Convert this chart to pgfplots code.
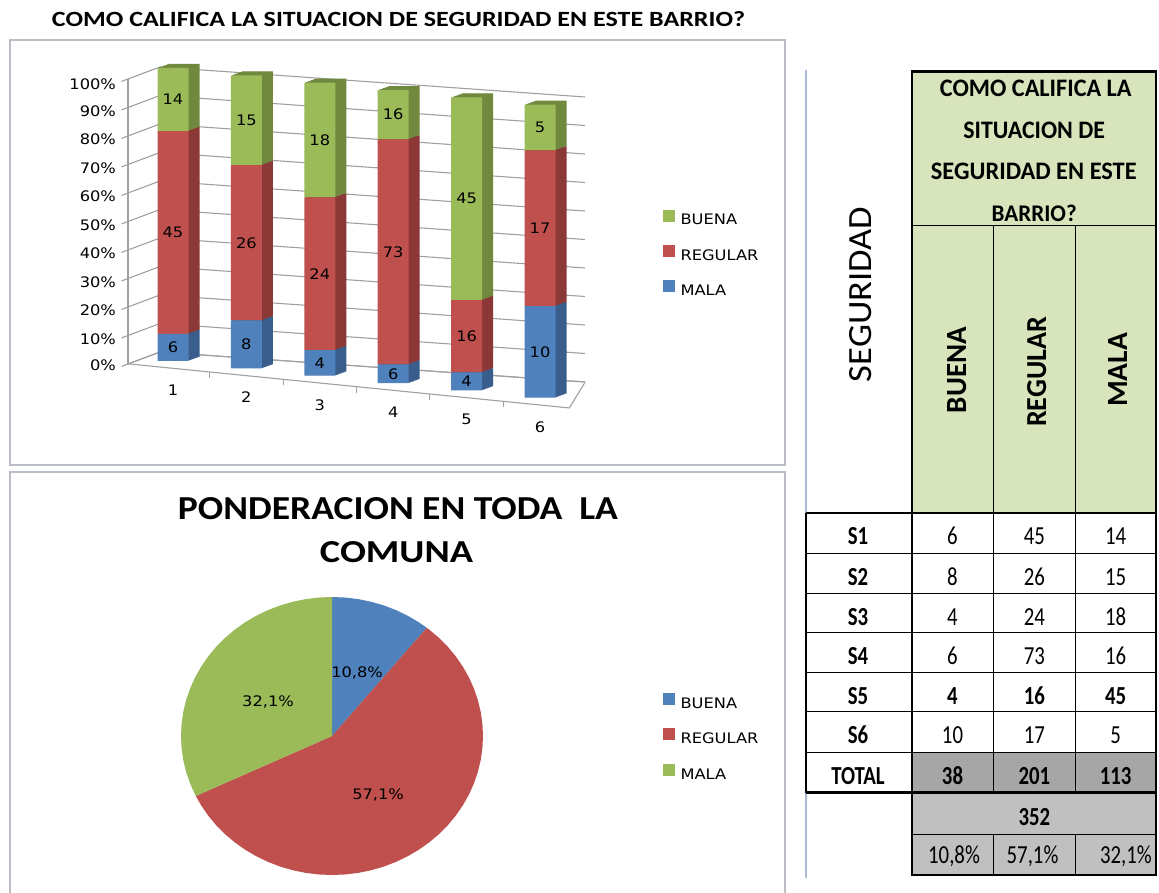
\documentclass[border=0pt]{standalone}
\usepackage{pgfplots}
\pgfplotsset{compat=1.18}
\usepackage{pgfplotstable}
\usepackage{graphicx}
\usepackage{fontspec}
\setmainfont{Carlito}
\newfontfamily\chartfont[FakeStretch=1.12]{DejaVu Sans}
\newfontfamily\tabfont[FakeStretch=0.8]{Carlito}
\newcommand{\cf}{\chartfont\fontsize{14.5pt}{17pt}\selectfont}
\newcommand{\tf}{\tabfont\fontsize{26pt}{30pt}\selectfont}

\definecolor{cgreen}{HTML}{9BBB59}
\definecolor{cred}{HTML}{C0504D}
\definecolor{cblue}{HTML}{4F81BD}
\definecolor{sgreen}{HTML}{71893F}
\definecolor{sred}{HTML}{8C3836}
\definecolor{sblue}{HTML}{3A5E8C}
\definecolor{hgreen}{HTML}{D8E4BC}
\definecolor{tgray}{HTML}{A6A6A6}
\definecolor{lgray}{HTML}{C0C0C0}
\definecolor{boxc}{HTML}{B9BEC6}
\definecolor{gridc}{HTML}{A0A0A0}
\definecolor{faint}{HTML}{A9BCD6}

% percentages per sector (x), and counts shown as labels
\pgfplotstableread{
x pm pr pb nm nr nb
1 9.23 69.23 21.54 6 45 14
2 16.33 53.06 30.61 8 26 15
3 8.70 52.17 39.13 4 24 18
4 6.32 76.84 16.84 6 73 16
5 6.15 24.62 69.23 4 16 45
6 31.25 53.13 15.63 10 17 5
}\bardata

\pgfplotsset{
  barbase/.style={
    anchor=origin, disabledatascaling,
    x={(73.4pt,-7.34pt)}, y={(0pt,2.93pt)},
    xmin=0, xmax=7, ymin=-2.5, ymax=100,
    clip=false, ybar stacked, bar width=31pt,
    hide axis,
  },
  legbase/.style={
    hide axis, scale only axis, width=10pt, height=10pt,
    xmin=0, xmax=1, ymin=0, ymax=1, anchor=north west,
    legend style={at={(0,1)}, anchor=north west, draw=none, fill=none,
      inner sep=0pt, font=\cf, row sep=17.5pt, legend cell align=left,
      nodes={inner sep=1pt},
      /tikz/every odd column/.append style={column sep=5pt}},
    legend image code/.code={\fill[##1] (0pt,-0.5pt) rectangle (11pt,10.5pt);},
  },
}

\begin{document}
\begin{tikzpicture}
\path[use as bounding box, fill=white] (0pt,0pt) rectangle (1159pt,892pt);

% ---------- boxes and texts (image coordinates) ----------
\begin{scope}[shift={(0pt,892pt)}, x=1pt, y=-1pt]
\draw[boxc, line width=2.5pt] (10,40) rectangle (785,465);
\draw[boxc, line width=2.5pt] (10,472) rectangle (785,896);
\node[anchor=base, inner sep=0pt] at (398.5,27) {\resizebox{693pt}{15pt}{\bfseries COMO CALIFICA LA SITUACION DE SEGURIDAD EN ESTE BARRIO?}};
\node[anchor=base, inner sep=0pt] at (398,520) {\resizebox{440pt}{22pt}{\bfseries PONDERACION EN TODA\hspace{0.45em}LA}};
\node[anchor=base, inner sep=0pt] at (396.5,563) {\resizebox{153pt}{21pt}{\bfseries COMUNA}};

% table
\fill[hgreen] (912,71.7) rectangle (1156,513);
\fill[tgray] (912,752.7) rectangle (1156,792.7);
\fill[lgray] (912,792.7) rectangle (1156,875);
\draw[faint, line width=1.2pt] (806,70) -- (806,878);
\draw[line width=1.2pt] (912,225.7) -- (1156,225.7);
\draw[line width=1.2pt] (993.3,225.7) -- (993.3,792.7) (1075.3,225.7) -- (1075.3,792.7);
\foreach \yy in {553.3,593.3,632.7,672.3,711.7,752.7} \draw[line width=1.2pt] (806,\yy) -- (1156,\yy);
\draw[line width=1.4pt] (806,513) -- (806,792.7);
\draw[line width=1.2pt] (912,834.3) -- (1156,834.3);
\draw[line width=1.2pt] (993.3,834.3) -- (993.3,875) (1075.3,834.3) -- (1075.3,875);
\draw[line width=2.6pt] (912,513) -- (912,71.7) -- (1156,71.7) -- (1156,875) -- (912,875) -- cycle;
\draw[line width=2.6pt] (806,513) -- (1156,513);
\draw[line width=2.6pt] (806,792.7) -- (1156,792.7);

\node[anchor=base, inner sep=0pt] at (1035.8,96.7) {\resizebox{191.7pt}{16.5pt}{\bfseries COMO CALIFICA LA}};
\node[anchor=base, inner sep=0pt] at (1034.2,138.3) {\resizebox{141.7pt}{16.5pt}{\bfseries SITUACION DE}};
\node[anchor=base, inner sep=0pt] at (1033.8,180) {\resizebox{205.7pt}{16.5pt}{\bfseries SEGURIDAD EN ESTE}};
\node[anchor=base, inner sep=0pt] at (1034.2,221.7) {\resizebox{85pt}{16.5pt}{\bfseries BARRIO?}};
\node[rotate=90, inner sep=0pt] at (860.8,294.5) {\resizebox{175pt}{22pt}{SEGURIDAD}};
\node[rotate=90, inner sep=0pt] at (956.7,370) {\resizebox{86pt}{19pt}{\bfseries BUENA}};
\node[rotate=90, inner sep=0pt] at (1036.7,372) {\resizebox{110pt}{19pt}{\bfseries REGULAR}};
\node[rotate=90, inner sep=0pt] at (1118,370) {\resizebox{74pt}{19pt}{\bfseries MALA}};

\begin{scope}[every node/.style={anchor=base, inner sep=0pt, font=\tf}]
\node[font=\tf\bfseries] at (858,545) {S1};
\node[font=\tf\bfseries] at (858,585.3) {S2};
\node[font=\tf\bfseries] at (858,625.3) {S3};
\node[font=\tf\bfseries] at (858,664.7) {S4};
\node[font=\tf\bfseries] at (858,704.3) {S5};
\node[font=\tf\bfseries] at (858,743.7) {S6};
\node[font=\tf\bfseries] at (858,784) {TOTAL};
\node at (952.5,545) {6};   \node at (1034.3,545) {45};   \node at (1115.7,545) {14};
\node at (952.5,585.3) {8}; \node at (1034.3,585.3) {26}; \node at (1115.7,585.3) {15};
\node at (952.5,625.3) {4}; \node at (1034.3,625.3) {24}; \node at (1115.7,625.3) {18};
\node at (952.5,664.7) {6}; \node at (1034.3,664.7) {73}; \node at (1115.7,664.7) {16};
\node[font=\tf\bfseries] at (952.5,704.3) {4}; \node[font=\tf\bfseries] at (1034.3,704.3) {16}; \node[font=\tf\bfseries] at (1115.7,704.3) {45};
\node at (952.5,743.7) {10}; \node at (1034.3,743.7) {17}; \node at (1115.7,743.7) {5};
\node[font=\tf\bfseries] at (952.5,784) {38}; \node[font=\tf\bfseries] at (1034.3,784) {201}; \node[font=\tf\bfseries] at (1115.7,784) {113};
\node[font=\tf\bfseries] at (1034.3,825) {352};
\node at (954,863) {10,8\%};
\node at (1032.5,863) {57,1\%};
\node[anchor=base east] at (1152,863) {32,1\%};
\end{scope}
\end{scope}

% ---------- 3D-looking stacked bar chart ----------
% back wall
\begin{axis}[anchor=origin, disabledatascaling, at={(160pt,540pt)},
  x={(425pt,-30pt)}, y={(0pt,2.85pt)}, xmin=0, xmax=1, ymin=0, ymax=100,
  axis lines*=left, axis line style={gridc, line width=1.1pt},
  xtick=\empty, ytick={0,10,...,100}, yticklabels={}, major tick length=0pt,
  ymajorgrids, grid style={gridc, line width=1.1pt}, clip=false]
\end{axis}
% left wall with the percentage scale
\begin{axis}[anchor=origin, disabledatascaling, at={(128pt,528pt)},
  x={(32pt,12pt)}, y={(0pt,2.85pt)}, xmin=0, xmax=1, ymin=0, ymax=100,
  axis lines*=left, axis line style={gridc, line width=1.1pt},
  xtick=\empty, ytick={0,10,...,100},
  /pgf/number format/assume math mode=true,
  yticklabel={\pgfmathprintnumber{\tick}\%},
  yticklabel style={font=\cf, text=black, yshift=7pt, xshift=-2pt},
  tick align=outside, major tick length=7pt, tick style={gridc, line width=1.1pt},
  ymajorgrids, grid style={gridc, line width=1.1pt}, clip=false]
\end{axis}
% floor front edge and category labels
\begin{axis}[anchor=origin, disabledatascaling, at={(99.6pt,538.34pt)},
  x={(73.4pt,-7.34pt)}, y={(0pt,2.93pt)}, xmin=0, xmax=7, ymin=-2.5, ymax=100,
  clip=false, axis line style={draw=none}, ytick=\empty,
  xtick={1,...,6}, xticklabels={1,2,3,4,5,6}, major tick length=0pt,
  xticklabel style={font=\cf, text=black, yshift=-13pt},
  unbounded coords=jump]
\addplot[gridc, line width=1.1pt] coordinates {(0.387,-2.5) (6.4,-2.5) (6.613,6.8)};
\addplot[gridc, line width=1.1pt] coordinates {(1.5,-2.5) (1.5,-4.5) (nan,nan) (2.5,-2.5) (2.5,-4.5) (nan,nan) (3.5,-2.5) (3.5,-4.5) (nan,nan) (4.5,-2.5) (4.5,-4.5) (nan,nan) (5.5,-2.5) (5.5,-4.5)};
\end{axis}
% side faces (depth sweep)
\foreach \k in {8,7,...,1}{
\begin{axis}[barbase, at={({99.6pt+\k*1.375pt},{538.34pt+\k*0.5pt})}]
\addplot[fill=sblue, draw=none] table[x=x,y=pm]{\bardata};
\addplot[fill=sred, draw=none] table[x=x,y=pr]{\bardata};
\addplot[fill=sgreen, draw=none] table[x=x,y=pb]{\bardata};
\end{axis}
}
% front faces with count labels
\begin{axis}[barbase, at={(99.6pt,538.34pt)},
  point meta=explicit symbolic, nodes near coords,
  every node near coord/.style={font=\cf, text=black, anchor=center}]
\addplot[fill=cblue, draw=none] table[x=x,y=pm,meta=nm]{\bardata};
\addplot[fill=cred, draw=none] table[x=x,y=pr,meta=nr]{\bardata};
\addplot[fill=cgreen, draw=none] table[x=x,y=pb,meta=nb]{\bardata};
\end{axis}
% bar legend
\begin{axis}[legbase, at={(663pt,682.5pt)}]
\addlegendimage{cgreen}\addlegendentry{BUENA}
\addlegendimage{cred}\addlegendentry{REGULAR}
\addlegendimage{cblue}\addlegendentry{MALA}
\end{axis}

% ---------- pie chart ----------
\begin{axis}[anchor=origin, disabledatascaling, at={(332pt,156pt)},
  x={(151pt,0pt)}, y={(0pt,139pt)}, xmin=-1.1, xmax=1.1, ymin=-1.1, ymax=1.1,
  hide axis, clip=false]
% BUENA 10,8 %: from 90 deg clockwise to 51.12 deg
\addplot[fill=cblue, draw=none, data cs=polar] coordinates {(0,0) (90,1) (85,1) (80,1) (75,1) (70,1) (65,1) (60,1) (55,1) (51.12,1)};
% REGULAR 57,1 %: 51.12 deg to -154.44 deg
\addplot[fill=cred, draw=none, data cs=polar] coordinates {(0,0) (51.12,1) (50,1) (45,1) (40,1) (35,1) (30,1) (25,1) (20,1) (15,1) (10,1) (5,1) (0,1) (-5,1) (-10,1) (-15,1) (-20,1) (-25,1) (-30,1) (-35,1) (-40,1) (-45,1) (-50,1) (-55,1) (-60,1) (-65,1) (-70,1) (-75,1) (-80,1) (-85,1) (-90,1) (-95,1) (-100,1) (-105,1) (-110,1) (-115,1) (-120,1) (-125,1) (-130,1) (-135,1) (-140,1) (-145,1) (-150,1) (-154.44,1)};
% MALA 32,1 %: -154.44 deg to -270 deg
\addplot[fill=cgreen, draw=none, data cs=polar] coordinates {(0,0) (-154.44,1) (-155,1) (-160,1) (-165,1) (-170,1) (-175,1) (-180,1) (-185,1) (-190,1) (-195,1) (-200,1) (-205,1) (-210,1) (-215,1) (-220,1) (-225,1) (-230,1) (-235,1) (-240,1) (-245,1) (-250,1) (-255,1) (-260,1) (-265,1) (-270,1)};
\node[font=\cf] at (axis cs:0.166,0.453) {10,8\%};
\node[font=\cf] at (axis cs:-0.424,0.245) {32,1\%};
\node[font=\cf] at (axis cs:0.305,-0.424) {57,1\%};
\end{axis}
% pie legend
\begin{axis}[legbase, at={(663pt,199pt)}]
\addlegendimage{cblue}\addlegendentry{BUENA}
\addlegendimage{cred}\addlegendentry{REGULAR}
\addlegendimage{cgreen}\addlegendentry{MALA}
\end{axis}
\end{tikzpicture}
\end{document}
